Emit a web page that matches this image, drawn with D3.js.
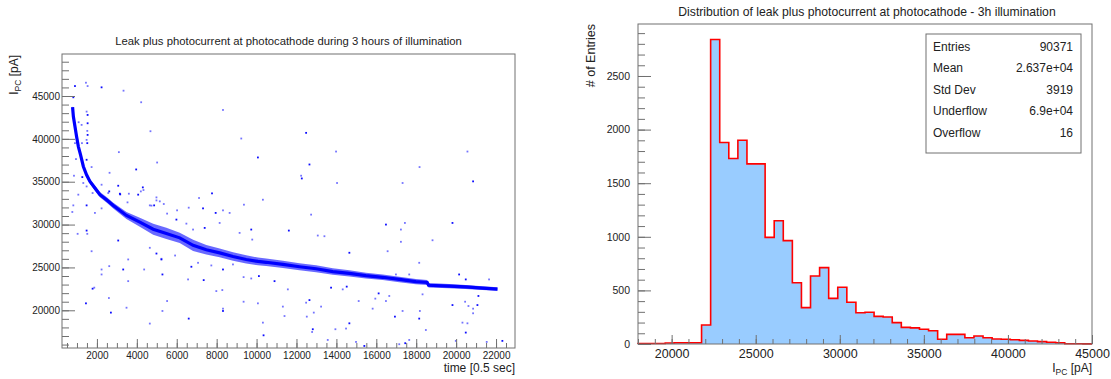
<!DOCTYPE html>
<html>
<head>
<meta charset="utf-8">
<script src="https://cdn.jsdelivr.net/npm/d3@7"></script>
<style>
  body { margin: 0; background: #fff; }
  svg text { font-family: "Liberation Sans", Arial, Helvetica, sans-serif; fill: #222; }
</style>
</head>
<body>
<svg id="chart" width="1111" height="379"></svg>
<script>
"use strict";

// ---- left pad: I_PC vs time ----
const curveTime = [780, 820, 900, 980, 1070, 1180, 1320, 1480, 1650, 1900, 2150, 2480, 2820, 3480,
  4150, 4820, 5480, 6150, 6820, 7480, 8150, 8820, 9480, 10070, 10480, 11320, 12150, 12980, 13820,
  14650, 15480, 16320, 17150, 17980, 18550, 18620, 19650, 20480, 21320, 22070];
const curveCurrent = [43700, 42600, 41430, 40270, 39100, 38140, 36780, 35810, 35030, 34260, 33490,
  32900, 32220, 31060, 30280, 29460, 28970, 28450, 27580, 27070, 26700, 26280, 25930, 25700, 25600,
  25350, 25080, 24850, 24520, 24300, 24050, 23850, 23600, 23350, 23250, 22920, 22820, 22720, 22590, 22480];
// half width of the dense band around the curve, in pA
const curveSpread = [200, 200, 200, 200, 200, 200, 200, 220, 280, 300, 300, 320, 340, 420,
  520, 650, 650, 600, 650, 560, 500, 500, 480, 450, 440, 430, 420, 400, 380,
  360, 340, 330, 320, 300, 290, 250, 240, 230, 220, 200];

const strayTime = [900, 1450, 1533, 2233, 3333, 4217, 817, 8317, 1483, 1533, 1083, 1233, 1533, 4683,
  1517, 1533, 9233, 1483, 1517, 900, 1250, 10067, 3100, 950, 1483, 5017, 1733, 3967, 2633, 850, 1267,
  1317, 1483, 4300, 4333, 3600, 3167, 1067, 1783, 2617, 4983, 7117, 7767, 4983, 817, 1483, 5350, 4650,
  4867, 3533, 6600, 7317, 9367, 2233,
  12483, 13983, 20567, 12650, 18167, 12233, 12267, 14033, 17317, 20850,
  767, 1900, 1483, 1517, 1033, 3067, 2233, 4200, 4067, 5150, 6017, 7950, 8317, 8650, 3067, 1733, 3567,
  5233, 2233, 2233, 3317, 4367, 2617, 5283, 3567, 6567, 7350, 7983, 8283, 1783, 1867, 9350, 10117, 9733,
  2600, 1450, 5517, 3483, 2700, 5283, 8317, 8317, 9350, 10067, 6600, 4650, 2567, 3150, 4733, 5517, 5983,
  6483, 6817, 7400, 8150, 9150, 9733, 9783, 4650, 4983, 5233, 5917, 6733, 7067, 7733, 8317, 8817,
  10317, 10350, 11317, 11400, 10900, 11567, 12483, 12650, 12517, 12867, 12817, 12783, 13233, 13733,
  13567, 13950, 14650, 14483, 14317, 14517, 15117, 14983, 15400, 15817, 15950, 16117, 16483, 16650,
  16933, 17317, 17150, 17450, 17650, 18183, 18150, 18483, 18317, 19817, 20317, 20567, 20483, 20450,
  20617, 21067, 20850, 20850, 21117, 19983, 21533, 22317, 16983, 17650, 20150,
  10317, 12733, 16483, 17433, 17233, 19817, 18817, 17233, 11617, 13067, 13400, 14650, 16567, 18150,
  20483, 21650];
const strayCurrent = [46160, 46550, 46160, 46010, 45620, 44270, 44850, 43370, 43180, 42790, 41940, 41630,
  41820, 40890, 40930, 40460, 40040, 39880, 39500, 39500, 39500, 37830, 38450, 37640, 37560, 37240, 36710,
  36430, 36040, 35700, 35540, 34850, 34450, 34340, 34030, 33600, 33520, 33490, 33680, 33870, 33170, 33100,
  33640, 32820, 32240, 32240, 32400, 32240, 32240, 32590, 31970, 31890, 32320, 31890,
  40700, 38520, 38520, 37010, 36710, 35700, 35380, 34850, 34850, 35040,
  31470, 31360, 29300, 28920, 28920, 34530, 34650, 33870, 33490, 32710, 31660, 31360, 31660, 31360, 28140,
  26890, 25930, 25930, 24760, 24180, 24760, 24760, 25150, 24180, 23400, 23600, 23520, 22240, 22360, 22520,
  22640, 23870, 23990, 23710, 21430, 20810, 21080, 20300, 19730, 19920, 20190, 19920, 21000, 20810, 19030,
  18450, 33680, 33600, 32210, 31280, 30580, 30110, 29420, 29610, 30190, 29030, 29420, 28250, 27290, 26620,
  26010, 26390, 25080, 25540, 25230, 24760, 25350,
  18560, 17080, 20430, 19330, 23400, 22440, 20890, 21190, 19260, 19730, 17790, 17470, 20430, 22640,
  16540, 17790, 18480, 17870, 22440, 22760, 21080, 16310, 15840, 20190, 21360, 21970, 21080, 21670,
  19260, 19920, 16040, 16160, 16540, 19920, 19030, 17700, 21860, 20610, 18560, 18480, 17400, 21000,
  20500, 20610, 20190, 19650, 21670, 16430, 16310, 16430, 24180, 24180, 24180,
  32900, 31160, 30000, 30190, 29420, 30190, 28170, 27990, 29300, 28720, 28640, 26710, 26890, 25540,
  23600, 23600];

// ---- right pad: histogram of I_PC ----
const binStart = 18000;
const binWidth = 540;
const binCounts = [4, 4, 5, 10, 11, 11, 12, 177, 2840, 1880, 1730, 1900, 1680, 1680, 995, 1150, 964,
  572, 339, 634, 712, 426, 530, 389, 292, 296, 258, 252, 199, 155, 150, 137, 124, 44, 90, 90, 59, 75,
  59, 47, 44, 40, 34, 28, 22, 16, 12, 3, 3, 1];
const statNames = ["Entries", "Mean", "Std Dev", "Underflow", "Overflow"];
const statValues = ["90371", "2.637e+04", "3919", "6.9e+04", "16"];

const axisColor = "#707070";
const svg = d3.select("#chart");

function drawTicks(g, make, scale, major, minor, bigLen, smallLen, pad, fontSize) {
  g.append("g")
    .call(make(scale).tickValues(minor).tickSize(-smallLen).tickSizeOuter(0).tickFormat(""))
  ;
  const labelled = g.append("g")
    .call(make(scale).tickValues(major).tickSize(-bigLen).tickSizeOuter(0).tickPadding(pad).tickFormat(d3.format("d")))
  ;
  g.selectAll(".domain").remove();
  g.selectAll("line").attr("stroke", axisColor);
  labelled.attr("font-family", null).attr("font-size", fontSize);
  labelled.selectAll("text").attr("fill", "#222");
}

// ================= left pad =================
const xTime = d3.scaleLinear().domain([250, 22950]).range([62, 515]);
const yCurrent = d3.scaleLinear().domain([15600, 49900]).range([348, 54]);

svg.append("text")
  .attr("x", 288.5).attr("y", 45)
  .attr("text-anchor", "middle")
  .attr("font-size", 11.3)
  .text("Leak plus photocurrent at photocathode during 3 hours of illumination")
;

const bandData = curveTime.map((t, i) => ({t: t, v: curveCurrent[i], s: curveSpread[i]}));

svg.append("path")
  .datum(bandData)
  .attr("fill", "#2a2aff")
  .attr("opacity", 0.7)
  .attr("d", d3.area().x(d => xTime(d.t)).y0(d => yCurrent(d.v - d.s)).y1(d => yCurrent(d.v + d.s)))
;
svg.append("path")
  .datum(bandData)
  .attr("fill", "none")
  .attr("stroke", "#0000ff")
  .attr("stroke-width", 3.2)
  .attr("d", d3.line().x(d => xTime(d.t)).y(d => yCurrent(d.v)))
;

svg.append("g")
  .selectAll("rect")
  .data(strayTime.map((t, i) => [t, strayCurrent[i]]))
  .enter()
  .append("rect")
  .attr("x", d => xTime(d[0]) - 0.9)
  .attr("y", d => yCurrent(d[1]) - 0.9)
  .attr("width", 1.8)
  .attr("height", 1.8)
  .attr("fill", "#0000ff")
  .attr("opacity", (d, i) => i % 3 === 0 ? 0.95 : 0.55)
;

svg.append("rect")
  .attr("x", 62).attr("y", 54).attr("width", 453).attr("height", 294)
  .attr("fill", "none").attr("stroke", axisColor)
;

drawTicks(svg.append("g").attr("transform", "translate(0,348)"), d3.axisBottom, xTime,
  d3.range(2000, 22001, 2000), d3.range(500, 22950, 500), 9, 5, 4, 10);
drawTicks(svg.append("g").attr("transform", "translate(62,0)"), d3.axisLeft, yCurrent,
  d3.range(20000, 45001, 5000), d3.range(16000, 49901, 1000), 13, 7, 2, 10);

svg.append("text")
  .attr("x", 515).attr("y", 372)
  .attr("text-anchor", "end")
  .attr("font-size", 12)
  .text("time [0.5 sec]")
;

const leftTitle = svg.append("text")
  .attr("transform", "translate(18,55) rotate(-90)")
  .attr("text-anchor", "end")
  .attr("font-size", 12)
;
leftTitle.append("tspan").text("I");
leftTitle.append("tspan").attr("font-size", 8.5).attr("dy", 3).text("PC");
leftTitle.append("tspan").attr("dy", -3).text(" [pA]");

// ================= right pad =================
const xCurrent = d3.scaleLinear().domain([18000, 45000]).range([638, 1092]);
const yCount = d3.scaleLinear().domain([0, 2985]).range([344, 24]);

svg.append("text")
  .attr("x", 867).attr("y", 16)
  .attr("text-anchor", "middle")
  .attr("font-size", 12.2)
  .text("Distribution of leak plus photocurrent at photocathode - 3h illumination")
;

const steps = [];
binCounts.forEach((c, i) => {
  const lo = binStart + i * binWidth;
  steps.push([lo, c], [lo + binWidth, c]);
});
const binEnd = binStart + binCounts.length * binWidth;

svg.append("path")
  .datum(steps)
  .attr("fill", "#99ccff")
  .attr("d", d3.area().x(d => xCurrent(d[0])).y0(yCount(0)).y1(d => yCount(d[1])))
;
svg.append("path")
  .datum([[binStart, 0]].concat(steps, [[binEnd, 0]]))
  .attr("fill", "none")
  .attr("stroke", "#ff0000")
  .attr("stroke-width", 1.6)
  .attr("d", d3.line().x(d => xCurrent(d[0])).y(d => yCount(d[1])))
;

svg.append("rect")
  .attr("x", 638).attr("y", 24).attr("width", 454).attr("height", 320)
  .attr("fill", "none").attr("stroke", axisColor)
;

drawTicks(svg.append("g").attr("transform", "translate(0,344)"), d3.axisBottom, xCurrent,
  d3.range(20000, 45001, 5000), d3.range(18000, 45001, 1000), 9, 5, 5, 12.5);
drawTicks(svg.append("g").attr("transform", "translate(638,0)"), d3.axisLeft, yCount,
  d3.range(0, 2501, 500), d3.range(0, 2901, 100), 13, 7, 8, 10.5);

const xTitle = svg.append("text")
  .attr("x", 1092).attr("y", 372)
  .attr("text-anchor", "end")
  .attr("font-size", 12)
;
xTitle.append("tspan").text("I");
xTitle.append("tspan").attr("font-size", 8.5).attr("dy", 3).text("PC");
xTitle.append("tspan").attr("dy", -3).text(" [pA]");

svg.append("text")
  .attr("transform", "translate(595,24) rotate(-90)")
  .attr("text-anchor", "end")
  .attr("font-size", 12.5)
  .text("# of Entries")
;

// stats box
svg.append("rect")
  .attr("x", 926).attr("y", 34).attr("width", 155).attr("height", 119)
  .attr("fill", "#fff").attr("stroke", axisColor)
;
const rowY = d3.scalePoint().domain(statNames).range([46.7, 132.3]);
const rows = svg.append("g")
  .selectAll("g")
  .data(statNames)
  .enter()
  .append("g")
  .attr("transform", d => `translate(0,${rowY(d)})`)
;
rows.append("text")
  .attr("x", 933).attr("dy", "0.35em")
  .attr("font-size", 12)
  .text(d => d)
;
rows.append("text")
  .attr("x", 1073).attr("dy", "0.35em")
  .attr("text-anchor", "end")
  .attr("font-size", 12)
  .text((d, i) => statValues[i])
;
</script>
</body>
</html>
